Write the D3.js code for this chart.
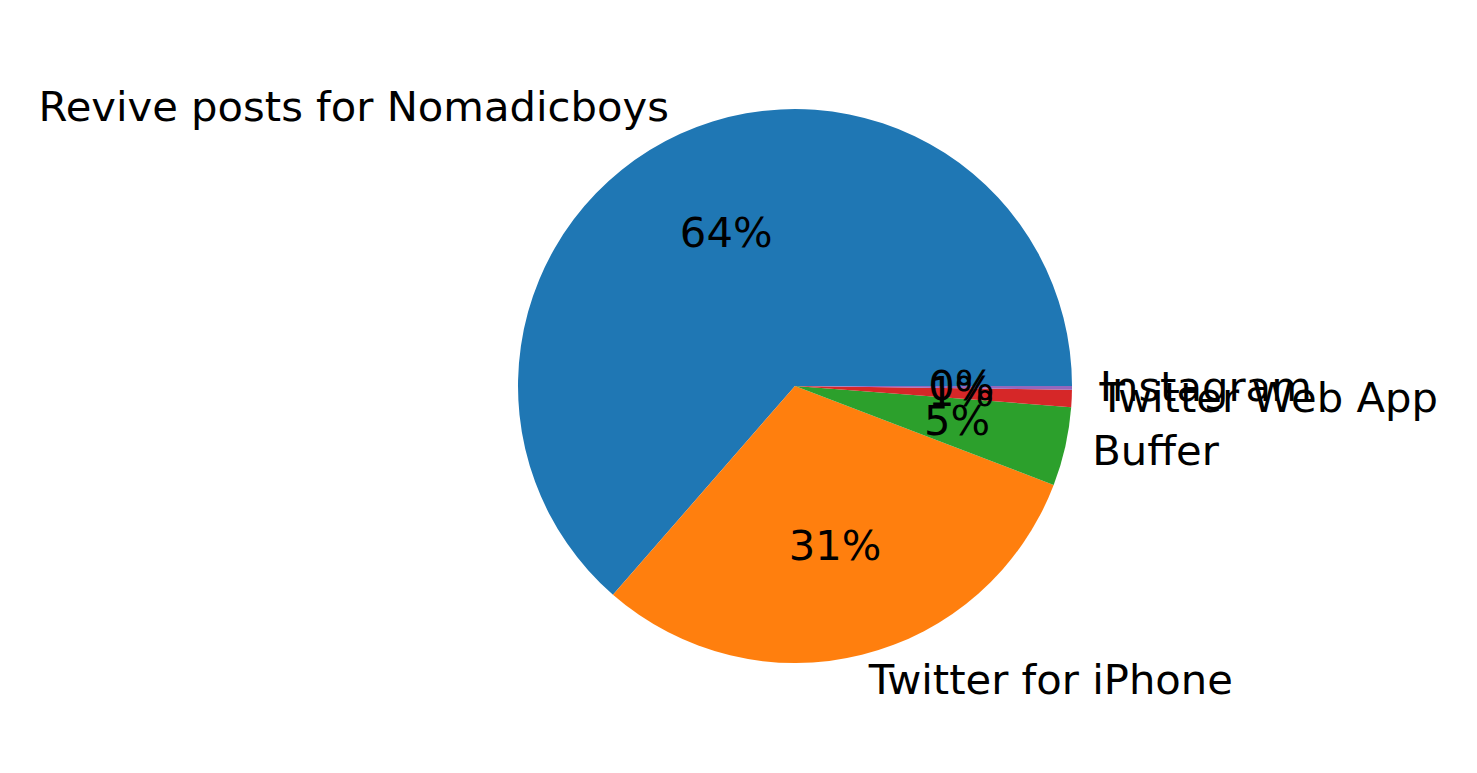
<!DOCTYPE html>
<html>
<head>
<meta charset="utf-8">
<script src="https://cdn.jsdelivr.net/npm/d3@7"></script>
<style>
html,body{margin:0;padding:0;background:#fff;}
svg{display:block;}
text{font-family:"DejaVu Sans",sans-serif;}
</style>
</head>
<body>
<svg id="chart" width="1477" height="773"></svg>
<script>
const categories = ["Revive posts for Nomadicboys", "Twitter for iPhone", "Buffer", "Twitter Web App", "Instagram"];
const values = [63.6, 30.6, 4.6, 1.0, 0.22];
const colors = ["#1f77b4", "#ff7f0e", "#2ca02c", "#d62728", "#9467bd"];

const W = 1477, H = 773;
const cx = 795, cy = 386, R = 277;
const fontSize = 41.7;

const svg = d3.select("#chart");
const g = svg.append("g").attr("transform", `translate(${cx},${cy})`);

const data = categories.map((c, i) => ({label: c, value: values[i], color: colors[i]}));
const total = d3.sum(values);

// matplotlib: start at 3 o'clock, counterclockwise
const pie = d3.pie().value(d => d.value).sort(null)
  .startAngle(Math.PI / 2).endAngle(Math.PI / 2 - 2 * Math.PI);
const arcs = pie(data);

const arc = d3.arc().innerRadius(0).outerRadius(R);
const labelArc = d3.arc().innerRadius(R * 1.1).outerRadius(R * 1.1);
const pctArc = d3.arc().innerRadius(R * 0.6).outerRadius(R * 0.6);

g.selectAll("path.slice").data(arcs).enter().append("path")
  .attr("class", "slice")
  .attr("d", arc)
  .attr("fill", d => d.data.color);

arcs.forEach(d => {
  const [lx, ly] = labelArc.centroid(d);
  g.append("text")
    .attr("x", lx).attr("y", ly - 2)
    .attr("text-anchor", lx > 0 ? "start" : "end")
    .attr("dominant-baseline", "central")
    .attr("font-size", fontSize)
    .attr("fill", "#000")
    .text(d.data.label);
  const [px, py] = pctArc.centroid(d);
  g.append("text")
    .attr("x", px).attr("y", py - 2)
    .attr("text-anchor", "middle")
    .attr("dominant-baseline", "central")
    .attr("font-size", fontSize)
    .attr("fill", "#000")
    .text(d3.format(".0f")(d.data.value / total * 100) + "%");
});
</script>
</body>
</html>
